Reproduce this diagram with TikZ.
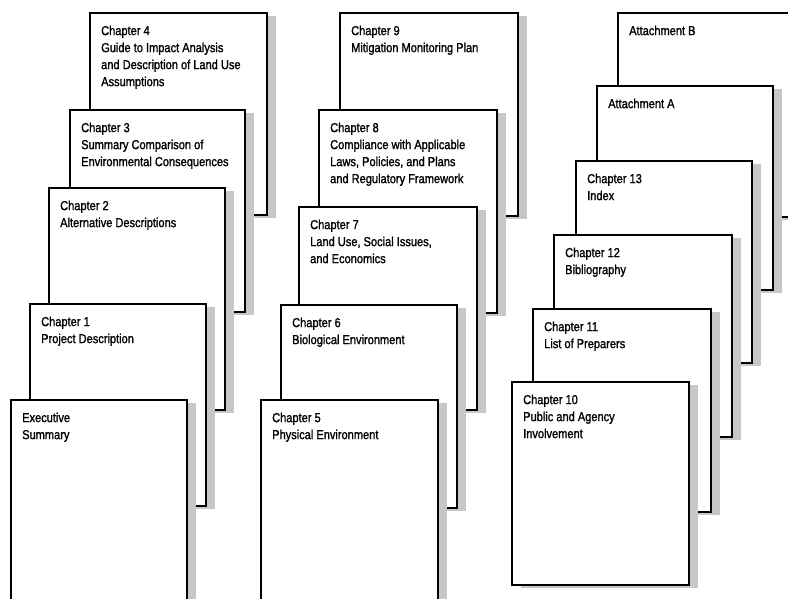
\documentclass[tikz,border=0pt]{standalone}
\usepackage{fontspec}
\setmainfont{Liberation Sans}[FakeStretch=0.85,FakeBold=1.3]
\usetikzlibrary{shadows}
\tikzset{
  pagebox/.style={draw=black, line width=1.6pt, fill=white, anchor=north west,
    inner sep=0pt, outer sep=0pt,
    drop shadow={shadow xshift=9pt, shadow yshift=-3pt, fill=black!22, opacity=1}},
  pagetext/.style={anchor=north west, inner sep=0pt, align=left,
    font=\fontsize{13}{17}\selectfont},
}
\newcommand\pg[6]{%
  \node[pagebox, minimum width={#4-#2}, minimum height={#5-#3}] (#1) at (#2,#3) {};
  \node[pagetext] (#1t) at ([xshift=11pt,yshift=-12.5pt]#1.north west) {#6};}
\begin{document}
\begin{tikzpicture}[x=1pt,y=-1pt]
\useasboundingbox (0,0) rectangle (788,599);
\clip (0,0) rectangle (788,599);
\fill[white] (0,0) rectangle (788,599);
% left stack
\pg{ch4}{90}{13}{267}{215}{Chapter 4\\Guide to Impact Analysis\\and Description of Land Use\\Assumptions}
\pg{ch3}{70}{110}{245}{312}{Chapter 3\\Summary Comparison of\\Environmental Consequences}
\pg{ch2}{49}{188}{225}{410}{Chapter 2\\Alternative Descriptions}
\pg{ch1}{30}{304}{206}{506}{Chapter 1\\Project Description}
\pg{es}{11}{400}{187}{640}{Executive\\Summary}
% middle stack
\pg{ch9}{340}{13}{518}{216}{Chapter 9\\Mitigation Monitoring Plan}
\pg{ch8}{319}{110}{497}{313}{Chapter 8\\Compliance with Applicable\\Laws, Policies, and Plans\\and Regulatory Framework}
\pg{ch7}{299}{207}{477}{410}{Chapter 7\\Land Use, Social Issues,\\and Economics}
\pg{ch6}{281}{305}{457}{508}{Chapter 6\\Biological Environment}
\pg{ch5}{261}{400}{438}{640}{Chapter 5\\Physical Environment}
% right stack
\pg{atb}{618}{13}{796}{217}{Attachment B}
\pg{ata}{597}{86}{773}{290}{Attachment A}
\pg{ch13}{576}{161}{752}{363}{Chapter 13\\Index}
\pg{ch12}{554}{235}{732}{437}{Chapter 12\\Bibliography}
\pg{ch11}{533}{309}{711}{512}{Chapter 11\\List of Preparers}
\pg{ch10}{512}{382}{689}{585}{Chapter 10\\Public and Agency\\Involvement}
\end{tikzpicture}
\end{document}
